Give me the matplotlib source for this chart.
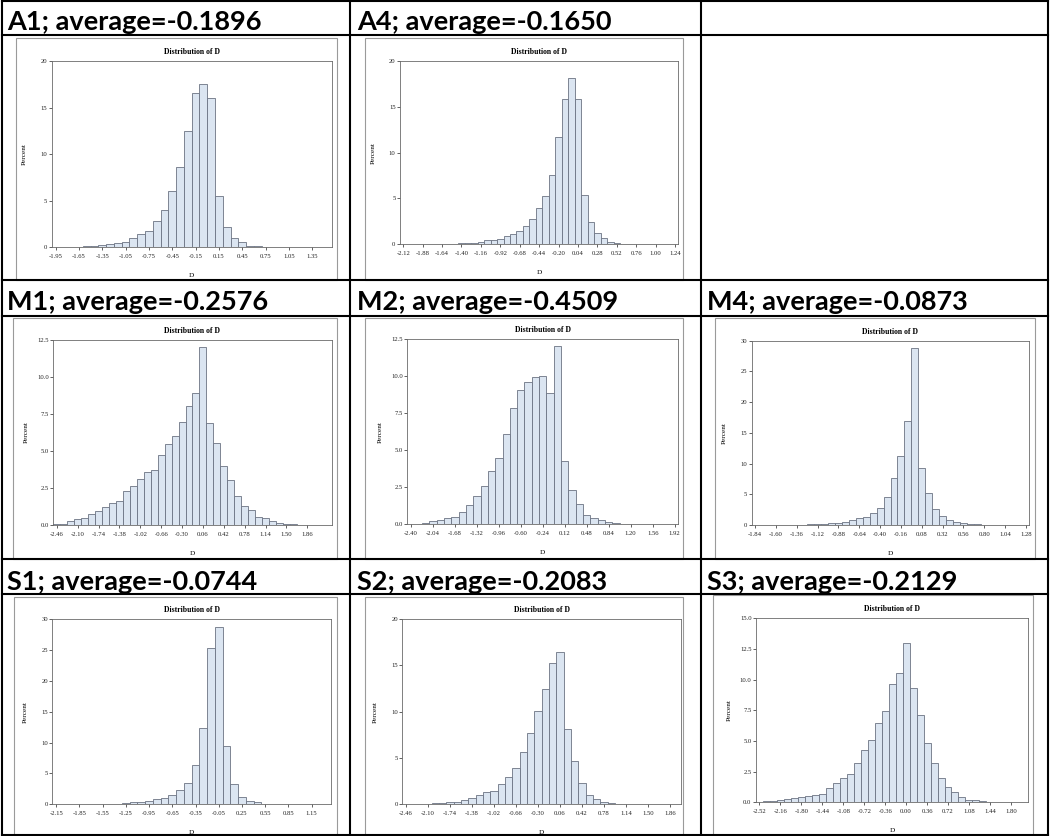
# plot.py
# Grid of SAS-style "Distribution of D" histograms, one per scenario,
# laid out like a 3x3 Word table with a bold header line per cell.

import numpy as np
import matplotlib
matplotlib.use("Agg")
import matplotlib.pyplot as plt
from matplotlib.lines import Line2D
from matplotlib.patches import Rectangle


# ---- data (percent per bin) ----

A1_AVG = -0.1896
A1_BIN0, A1_BINW = -1.95, 0.10
A1_PCT = [0.01, 0.03, 0.05, 0.08, 0.10, 0.15, 0.25, 0.40, 0.50, 0.62,
          1.00, 1.45, 1.80, 2.80, 4.05, 6.00, 8.60, 12.5, 16.6, 17.5,
          16.0, 5.50, 2.20, 1.05, 0.58, 0.15, 0.12, 0.06, 0.04, 0.02,
          0.02, 0.01, 0.01, 0.00, 0.00, 0.00]
A1_XT = ["-1.95", "-1.65", "-1.35", "-1.05", "-0.75", "-0.45", "-0.15",
         "0.15", "0.45", "0.75", "1.05", "1.35"]
A1_YT = ["0", "5", "10", "15", "20"]

A4_AVG = -0.1650
A4_BIN0, A4_BINW = -2.12, 0.08
A4_PCT = [0.01, 0.01, 0.01, 0.02, 0.03, 0.03, 0.05, 0.06, 0.08, 0.10,
          0.12, 0.18, 0.20, 0.42, 0.50, 0.60, 0.90, 1.15, 1.45, 2.00,
          2.80, 4.00, 5.30, 7.60, 11.7, 15.8, 18.1, 15.9, 5.35, 2.40,
          1.20, 0.65, 0.30, 0.15, 0.08, 0.05, 0.03, 0.02, 0.02, 0.01,
          0.01, 0.00, 0.00]
A4_XT = ["-2.12", "-1.88", "-1.64", "-1.40", "-1.16", "-0.92", "-0.68",
         "-0.44", "-0.20", "0.04", "0.28", "0.52", "0.76", "1.00", "1.24"]
A4_YT = ["0", "5", "10", "15", "20"]

M1_AVG = -0.2576
M1_BIN0, M1_BINW = -2.46, 0.12
M1_PCT = [0.05, 0.10, 0.25, 0.38, 0.50, 0.75, 0.95, 1.25, 1.50, 1.60,
          2.30, 2.65, 3.10, 3.60, 3.75, 4.70, 5.45, 6.00, 6.95, 8.05,
          8.95, 12.0, 6.90, 5.55, 4.00, 3.05, 1.95, 1.30, 1.00, 0.55,
          0.48, 0.25, 0.15, 0.10, 0.05, 0.03, 0.02, 0.01, 0.01, 0.00]
M1_XT = ["-2.46", "-2.10", "-1.74", "-1.38", "-1.02", "-0.66", "-0.30",
         "0.06", "0.42", "0.78", "1.14", "1.50", "1.86"]
M1_YT = ["0.0", "2.5", "5.0", "7.5", "10.0", "12.5"]

M2_AVG = -0.4509
M2_BIN0, M2_BINW = -2.40, 0.12
M2_PCT = [0.02, 0.05, 0.12, 0.20, 0.30, 0.40, 0.48, 0.85, 1.30, 1.90,
          2.60, 3.60, 4.50, 6.10, 7.85, 9.05, 9.60, 9.95, 10.05, 8.85,
          12.05, 4.25, 2.35, 1.35, 0.65, 0.42, 0.30, 0.15, 0.10, 0.05,
          0.05, 0.03, 0.02, 0.02, 0.01, 0.01, 0.01]
M2_XT = ["-2.40", "-2.04", "-1.68", "-1.32", "-0.96", "-0.60", "-0.24",
         "0.12", "0.48", "0.84", "1.20", "1.56", "1.92"]
M2_YT = ["0.0", "2.5", "5.0", "7.5", "10.0", "12.5"]

M4_AVG = -0.0873
M4_BIN0, M4_BINW = -1.84, 0.08
M4_PCT = [0.01, 0.01, 0.01, 0.02, 0.02, 0.03, 0.05, 0.06, 0.10, 0.12,
          0.20, 0.28, 0.30, 0.55, 0.75, 1.10, 1.25, 1.90, 2.80, 4.50,
          7.65, 11.2, 17.0, 28.85, 9.20, 5.20, 2.65, 1.50, 0.75, 0.50,
          0.28, 0.20, 0.12, 0.08, 0.05, 0.03, 0.02, 0.01, 0.01, 0.00]
M4_XT = ["-1.84", "-1.60", "-1.36", "-1.12", "-0.88", "-0.64", "-0.40",
         "-0.16", "0.08", "0.32", "0.56", "0.80", "1.04", "1.28"]
M4_YT = ["0", "5", "10", "15", "20", "25", "30"]

S1_AVG = -0.0744
S1_BIN0, S1_BINW = -2.15, 0.10
S1_PCT = [0.01, 0.01, 0.02, 0.02, 0.03, 0.06, 0.08, 0.10, 0.12, 0.20,
          0.40, 0.45, 0.55, 0.85, 1.00, 1.55, 2.35, 3.50, 6.35, 12.4,
          25.3, 28.7, 9.50, 3.30, 1.20, 0.60, 0.40, 0.12, 0.08, 0.05,
          0.04, 0.02, 0.01, 0.01, 0.01, 0.00]
S1_XT = ["-2.15", "-1.85", "-1.55", "-1.25", "-0.95", "-0.65", "-0.35",
         "-0.05", "0.25", "0.55", "0.85", "1.15"]
S1_YT = ["0", "5", "10", "15", "20", "25", "30"]

S2_AVG = -0.2083
S2_BIN0, S2_BINW = -2.46, 0.12
S2_PCT = [0.01, 0.02, 0.03, 0.06, 0.10, 0.15, 0.20, 0.30, 0.50, 0.70,
          1.05, 1.35, 1.45, 2.15, 2.95, 3.95, 5.60, 7.65, 10.1, 12.4,
          15.25, 16.4, 8.15, 4.70, 2.25, 1.05, 0.60, 0.30, 0.15, 0.08,
          0.05, 0.03, 0.02, 0.01, 0.01, 0.01, 0.00, 0.00]
S2_XT = ["-2.46", "-2.10", "-1.74", "-1.38", "-1.02", "-0.66", "-0.30",
         "0.06", "0.42", "0.78", "1.14", "1.50", "1.86"]
S2_YT = ["0", "5", "10", "15", "20"]

S3_AVG = -0.2129
S3_BIN0, S3_BINW = -2.52, 0.12
S3_PCT = [0.03, 0.07, 0.10, 0.15, 0.25, 0.38, 0.40, 0.55, 0.60, 0.70,
          1.20, 1.55, 2.00, 2.30, 3.20, 4.30, 5.05, 6.45, 7.45, 9.65,
          10.55, 13.0, 9.35, 7.15, 4.85, 3.20, 2.00, 1.25, 0.80, 0.45,
          0.22, 0.20, 0.08, 0.06, 0.04, 0.02, 0.01, 0.01, 0.01]
S3_XT = ["-2.52", "-2.16", "-1.80", "-1.44", "-1.08", "-0.72", "-0.36",
         "0.00", "0.36", "0.72", "1.08", "1.44", "1.80"]
S3_YT = ["0.0", "2.5", "5.0", "7.5", "10.0", "12.5", "15.0"]


# ---- layout (pixels in the 1050x836 picture) ----

W, H = 1050, 836

# name, data, header text position, image frame, axes box (left, top, right, bottom)
PANELS = [
    ("A1", A1_AVG, A1_BIN0, A1_BINW, A1_PCT, A1_XT, A1_YT,
     (7, 29.5), (16, 38, 337, 280), (51.7, 61, 331.7, 247.3)),
    ("A4", A4_AVG, A4_BIN0, A4_BINW, A4_PCT, A4_XT, A4_YT,
     (357, 29.5), (365, 38, 683, 280), (400, 61, 678.3, 244.3)),
    ("M1", M1_AVG, M1_BIN0, M1_BINW, M1_PCT, M1_XT, M1_YT,
     (7, 309.5), (13, 318, 337, 559), (53.3, 340, 331.7, 525)),
    ("M2", M2_AVG, M2_BIN0, M2_BINW, M2_PCT, M2_XT, M2_YT,
     (357, 309.5), (365, 318, 683, 559), (407.3, 339.3, 678.3, 524.3)),
    ("M4", M4_AVG, M4_BIN0, M4_BINW, M4_PCT, M4_XT, M4_YT,
     (707, 309.5), (715, 318, 1035, 559), (751.7, 340.7, 1029.3, 525)),
    ("S1", S1_AVG, S1_BIN0, S1_BINW, S1_PCT, S1_XT, S1_YT,
     (7, 589.5), (14, 597, 337, 836), (52.3, 619, 331, 804.3)),
    ("S2", S2_AVG, S2_BIN0, S2_BINW, S2_PCT, S2_XT, S2_YT,
     (357, 589.5), (365, 597, 683, 836), (402.3, 619, 681, 804.3)),
    ("S3", S3_AVG, S3_BIN0, S3_BINW, S3_PCT, S3_XT, S3_YT,
     (707, 589.5), (713, 595, 1033, 836), (756, 618.3, 1028.3, 802.3)),
]

TABLE_X = [2, 350, 701, 1048]
TABLE_Y = [1, 35, 280, 316, 559, 594, 835]

BAR_FILL = "#dbe5f1"
BAR_EDGE = "#6b7383"
SERIF = "Liberation Serif"


def fx(x):
    return x / W


def fy(y):
    return 1 - y / H


def px_rect(left, top, right, bottom):
    return [fx(left), fy(bottom), (right - left) / W, (bottom - top) / H]


def draw_hist(fig, box, bin0, binw, pct, xt, yt):
    ax = fig.add_axes(px_rect(*box))
    centers = bin0 + binw * np.arange(len(pct))
    ax.bar(centers, pct, width=binw, color=BAR_FILL, edgecolor=BAR_EDGE,
           linewidth=0.6, align="center")

    ax.set_xlim(centers[0] - binw / 2, centers[-1] + binw / 2)
    ax.set_ylim(0, float(yt[-1]))

    ax.set_xticks([float(t) for t in xt])
    ax.set_xticklabels(xt, fontfamily=SERIF, fontsize=4.8)
    ax.set_yticks([float(t) for t in yt])
    ax.set_yticklabels(yt, fontfamily=SERIF, fontsize=4.8)
    ax.tick_params(axis="x", length=2.2, width=0.5, pad=2.8, colors="#222222")
    ax.tick_params(axis="y", length=2.2, width=0.5, pad=1.0, colors="#222222")

    for spine in ax.spines.values():
        spine.set_color("#6a6a6a")
        spine.set_linewidth(0.6)

    ax.annotate("Distribution of D", xy=(0.5, 1), xycoords="axes fraction",
                xytext=(0, 6.5), textcoords="offset points", ha="center",
                va="center", fontfamily=SERIF, fontsize=5.6, fontweight="bold")
    ax.annotate("Percent", xy=(0, 0.5), xycoords="axes fraction",
                xytext=(-19.5, 0), textcoords="offset points", ha="center",
                va="center", rotation=90, fontfamily=SERIF, fontsize=5.2)
    ax.annotate("D", xy=(0.5, 0), xycoords="axes fraction",
                xytext=(0, -20.5), textcoords="offset points", ha="center",
                va="center", fontfamily=SERIF, fontsize=5.2)
    return ax


fig = plt.figure(figsize=(W / 100, H / 100), dpi=100)
fig.patch.set_facecolor("white")

for (name, avg, bin0, binw, pct, xt, yt, head, frame, box) in PANELS:
    # border of the pasted SAS image
    fig.add_artist(Rectangle((fx(frame[0]), fy(frame[3])),
                             (frame[2] - frame[0]) / W,
                             (frame[3] - frame[1]) / H,
                             transform=fig.transFigure, fill=False,
                             edgecolor="#9a9a9a", linewidth=0.8))
    draw_hist(fig, box, bin0, binw, pct, xt, yt)
    fig.text(fx(head[0]), fy(head[1]), f"{name}; average={avg:.4f}",
             fontfamily="Lato", fontweight="bold", fontsize=19.5,
             ha="left", va="baseline")

# table grid lines
for x in TABLE_X:
    fig.add_artist(Line2D([fx(x), fx(x)], [fy(TABLE_Y[0]), fy(TABLE_Y[-1])],
                          transform=fig.transFigure, color="black", lw=1.5))
for y in TABLE_Y:
    fig.add_artist(Line2D([fx(TABLE_X[0]), fx(TABLE_X[-1])], [fy(y), fy(y)],
                          transform=fig.transFigure, color="black", lw=1.5))

fig.savefig("out.png", dpi=100)
plt.close(fig)
